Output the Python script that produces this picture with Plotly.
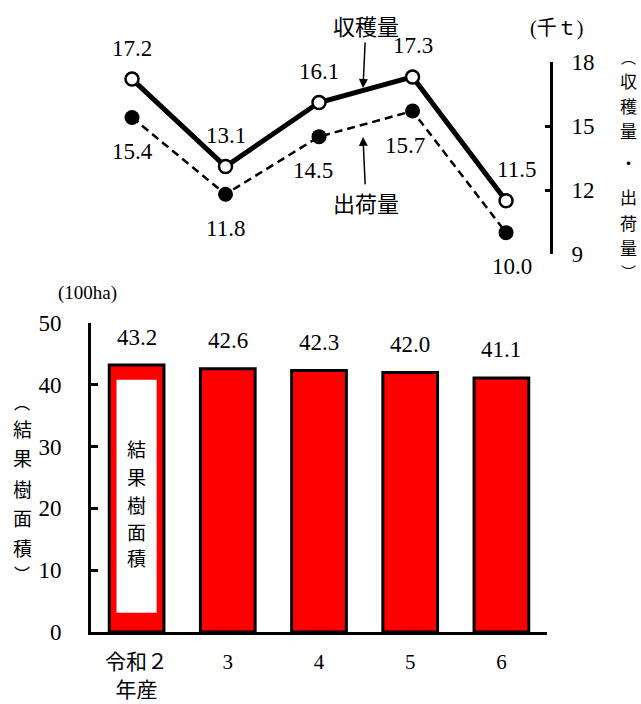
import plotly.graph_objects as go

# ---- data ----
years = ["令和２<br>年産", "3", "4", "5", "6"]
area = [43.2, 42.6, 42.3, 42.0, 41.1]          # 結果樹面積 (100ha)
harvest = [17.2, 13.1, 16.1, 17.3, 11.5]       # 収穫量 (千t)
shipment = [15.4, 11.8, 14.5, 15.7, 10.0]      # 出荷量 (千t)
right_ticks = [9, 12, 15, 18]

# ---- style ----
W, H = 641, 704
SERIF = "Liberation Serif"
MIX = "Liberation Serif, Noto Sans CJK JP"
JP = "Noto Sans CJK JP"
harvest_dx = [0, 0, 0, 0, 10]
ship_dx = [0, 0, -6, -8, 6]

# vertical (stacked) texts: characters, pixel rows and sizes
right_title = "︵収穫量・出荷量︶"
right_title_rows = [56, 80, 105, 130, 162, 197, 222, 247, 271]
right_title_sizes = [15, 17, 17, 17, 17, 17, 17, 17, 15]
left_title = "︵結果樹面積︶"
left_title_rows = [402, 428, 458, 488, 517, 547, 573]
left_title_sizes = [16, 19, 19, 19, 19, 19, 16]
bar_label = "結果樹面積"
bar_label_rows = [448, 476, 504, 531, 557]
bar_label_sizes = [19, 19, 19, 19, 19]


def px_x(p):
    return p / W


def px_y(p):
    return 1 - p / H


def vtext(chars, x, rows, sizes):
    out = []
    for ch, r, s in zip(chars, rows, sizes):
        out.append(dict(x=px_x(x), y=px_y(r), xref="paper", yref="paper",
                        xanchor="center", yanchor="middle", text=ch,
                        showarrow=False,
                        font=dict(family=JP, size=s, color="black")))
    return out


fig = go.Figure()

fig.add_trace(go.Bar(
    x=years, y=area, xaxis="x", yaxis="y", width=0.6,
    marker=dict(color="#FF0000", line=dict(color="black", width=3)),
    showlegend=False, hoverinfo="skip",
))

fig.add_trace(go.Scatter(
    x=years, y=shipment, xaxis="x2", yaxis="y2", mode="lines+markers",
    line=dict(color="black", width=2.5, dash="8px,5px"),
    marker=dict(symbol="circle", size=15, color="black"),
    showlegend=False, hoverinfo="skip",
))

fig.add_trace(go.Scatter(
    x=years, y=harvest, xaxis="x2", yaxis="y2", mode="lines+markers",
    line=dict(color="black", width=5),
    marker=dict(symbol="circle", size=13, color="white",
                line=dict(color="black", width=2.5)),
    showlegend=False, hoverinfo="skip",
))

ann = []
num_font = dict(family=SERIF, size=23, color="black")
for i, v in enumerate(area):
    ann.append(dict(x=i, y=v, xref="x", yref="y", text=f"{v:.1f}",
                    showarrow=False, yshift=28, xanchor="center",
                    yanchor="middle", font=num_font))
for i, (v, dx) in enumerate(zip(harvest, harvest_dx)):
    ann.append(dict(x=i, y=v, xref="x2", yref="y2", text=f"{v:.1f}",
                    showarrow=False, yshift=31, xshift=dx, xanchor="center",
                    yanchor="middle", font=num_font))
for i, (v, dx) in enumerate(zip(shipment, ship_dx)):
    ann.append(dict(x=i, y=v, xref="x2", yref="y2", text=f"{v:.1f}",
                    showarrow=False, yshift=-34, xshift=dx, xanchor="center",
                    yanchor="middle", font=num_font))

# arrows with series names
ann.append(dict(x=2.47, y=16.78, xref="x2", yref="y2", text="収穫量",
                showarrow=True, ax=3, ay=-63, arrowhead=2, arrowsize=1.2,
                arrowwidth=1.5, arrowcolor="black",
                font=dict(family=JP, size=22, color="black")))
ann.append(dict(x=2.47, y=14.49, xref="x2", yref="y2", text="出荷量",
                showarrow=True, ax=3, ay=65, arrowhead=2, arrowsize=1.2,
                arrowwidth=1.5, arrowcolor="black",
                font=dict(family=JP, size=22, color="black")))

# units
ann.append(dict(x=px_x(556), y=px_y(29), xref="paper", yref="paper",
                xanchor="center", yanchor="middle",
                text="(千ｔ)", showarrow=False,
                font=dict(family=MIX, size=20, color="black")))
ann.append(dict(x=px_x(87), y=px_y(293), xref="paper", yref="paper",
                xanchor="center", yanchor="middle",
                text="(100ha)", showarrow=False,
                font=dict(family=SERIF, size=19, color="black")))

# vertical titles and the label inside the first bar
ann += vtext(right_title, 628, right_title_rows, right_title_sizes)
ann += vtext(left_title, 22, left_title_rows, left_title_sizes)
ann += vtext(bar_label, 136, bar_label_rows, bar_label_sizes)

shapes = [dict(type="rect", xref="x", yref="y", x0=-0.22, x1=0.22,
               y0=3.1, y1=40.8, fillcolor="white", line=dict(width=0),
               layer="above")]

fig.update_layout(
    width=W, height=H, autosize=False,
    margin=dict(l=0, r=0, t=0, b=0, pad=0, autoexpand=False),
    paper_bgcolor="white", plot_bgcolor="white",
    showlegend=False,
    annotations=ann, shapes=shapes,
    xaxis=dict(domain=[px_x(91), px_x(547)], range=[-0.5, 4.5],
               type="category", anchor="y", automargin=False,
               showline=True, linecolor="black", linewidth=3,
               ticks="", showgrid=False, zeroline=False,
               ticklabelstandoff=9,
               tickfont=dict(family=MIX, size=21, color="black")),
    yaxis=dict(domain=[px_y(632), px_y(323)], range=[0, 50], dtick=10,
               anchor="x", automargin=False,
               showline=True, linecolor="black", linewidth=3,
               ticks="inside", ticklen=7, tickwidth=2.5, tickcolor="black",
               showgrid=False, zeroline=False,
               ticklabelstandoff=22,
               tickfont=dict(family=SERIF, size=23, color="black")),
    xaxis2=dict(domain=[px_x(85.25), px_x(550)], range=[-0.5, 4.47],
                type="category", anchor="y2", visible=False,
                automargin=False),
    yaxis2=dict(domain=[px_y(254), px_y(62)], range=[9, 18],
                tickvals=right_ticks, side="right", anchor="x2",
                automargin=False,
                showline=True, linecolor="black", linewidth=3,
                ticks="inside", ticklen=5, tickwidth=2.5, tickcolor="black",
                showgrid=False, zeroline=False,
                ticklabelstandoff=14,
                tickfont=dict(family=SERIF, size=23, color="black")),
)

fig.write_html(
    "out.html",
    config={"displayModeBar": False},
    post_script="document.body.style.margin='0px';"
                "document.body.style.padding='0px';",
)
